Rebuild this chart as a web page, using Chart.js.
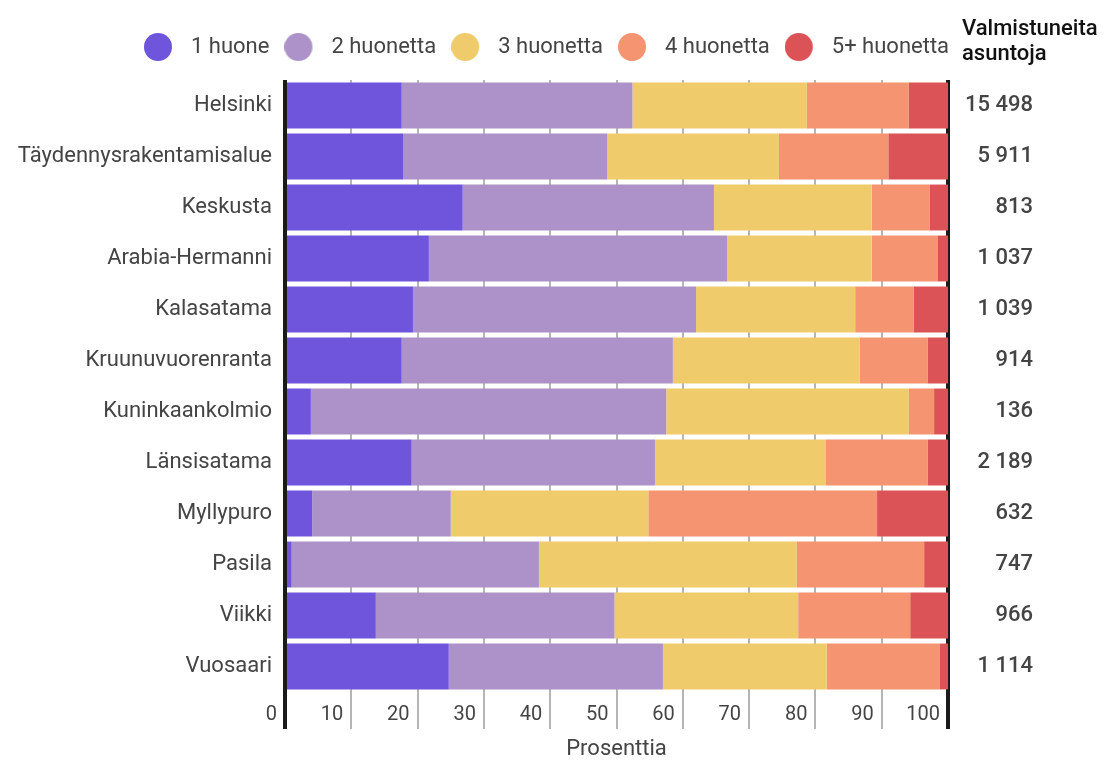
<!DOCTYPE html>
<html>
<head>
<meta charset="utf-8">
<script src="https://cdn.jsdelivr.net/npm/chart.js@4"></script>
<style>
  body { margin: 0; background: #fff; }
  #wrap { width: 1113px; height: 760px; position: relative; }
</style>
</head>
<body>
<div id="wrap"><canvas id="chart"></canvas></div>
<script>
const areas = ['Helsinki', 'Täydennysrakentamisalue', 'Keskusta', 'Arabia-Hermanni', 'Kalasatama',
  'Kruunuvuorenranta', 'Kuninkaankolmio', 'Länsisatama', 'Myllypuro', 'Pasila', 'Viikki', 'Vuosaari'];
const completed = [15498, 5911, 813, 1037, 1039, 914, 136, 2189, 632, 747, 966, 1114];

const seriesNames = ['1 huone', '2 huonetta', '3 huonetta', '4 huonetta', '5+ huonetta'];
const rooms1 = [17.6, 17.8, 26.8, 21.7, 19.3, 17.6, 3.9, 19.1, 4.1, 1.0, 13.7, 24.7];
const rooms2 = [34.8, 30.8, 37.9, 45.0, 42.7, 40.9, 53.6, 36.7, 20.9, 37.3, 36.0, 32.3];
const rooms3 = [26.3, 25.9, 23.8, 21.8, 24.0, 28.2, 36.6, 25.8, 29.8, 38.9, 27.7, 24.7];
const rooms4 = [15.4, 16.5, 8.7, 9.9, 8.8, 10.2, 3.8, 15.3, 34.5, 19.2, 16.9, 17.0];
const rooms5 = [5.9, 9.0, 2.8, 1.6, 5.2, 3.1, 2.1, 3.1, 10.7, 3.6, 5.7, 1.3];

const colors = ['#6e55dc', '#ac92c8', '#efcb6b', '#f59470', '#db5356'];
const textGrey = '#444';

// legend dot with some room to the right of it
function dot(color) {
  const c = document.createElement('canvas');
  c.width = 36; c.height = 28;
  const g = c.getContext('2d');
  g.fillStyle = color;
  g.beginPath(); g.arc(14, 14, 14, 0, Math.PI * 2); g.fill();
  return c;
}
const dots = colors.map(dot);

const fmt = n => n.toString().replace(/\B(?=(\d{3})+(?!\d))/g, ' ');

// push the legend down a bit from the plot and start it further right
const legendTweak = {
  id: 'legendTweak',
  beforeInit(chart) {
    const fit = chart.legend.fit;
    chart.legend.fit = function() { fit.call(this); this.height += 12; };
  },
  afterLayout(chart) {
    chart.legend.left = 129;
  }
};

const header = {
  id: 'header',
  afterDraw(chart) {
    const ctx = chart.ctx;
    const x = chart.scales.y2.left + 14;
    ctx.save();
    ctx.font = '500 22px Roboto';
    ctx.fillStyle = '#111';
    ctx.textAlign = 'left';
    ctx.fillText('Valmistuneita', x, 29);
    ctx.fillText('asuntoja', x, 54);
    ctx.restore();
  }
};

const edge = v => v === 0 || v === 100;

new Chart(document.getElementById('chart'), {
  type: 'bar',
  data: {
    labels: areas,
    datasets: [rooms1, rooms2, rooms3, rooms4, rooms5].map((d, i) => ({
      label: seriesNames[i],
      data: d,
      backgroundColor: colors[i],
      borderWidth: 0,
      barPercentage: 0.9,
      categoryPercentage: 1
    }))
  },
  options: {
    indexAxis: 'y',
    responsive: true,
    maintainAspectRatio: false,
    animation: false,
    layout: { padding: { left: 0, right: 80, top: 21, bottom: 0 } },
    scales: {
      x: {
        stacked: true,
        min: 0, max: 100,
        border: { display: false },
        grid: {
          color: c => edge(c.tick.value) ? '#1a1a1a' : '#b5b5b5',
          lineWidth: c => edge(c.tick.value) ? 4 : 2,
          tickLength: 37
        },
        ticks: {
          stepSize: 10,
          align: 'end',
          labelOffset: -8,
          padding: -26,
          color: textGrey,
          font: { family: 'Roboto', size: 20 },
          maxRotation: 0
        },
        title: {
          display: true,
          text: 'Prosenttia',
          color: textGrey,
          font: { family: 'Roboto', size: 22 },
          padding: { top: 6, bottom: -3 }
        },
        afterFit(s) { s.height = 68; }
      },
      y: {
        stacked: true,
        border: { display: false },
        grid: { display: false, drawTicks: false },
        ticks: { color: textGrey, padding: 13, font: { family: 'Roboto', size: 22 } },
        afterFit(s) { s.width = 285; }
      },
      y2: {
        type: 'category',
        position: 'right',
        labels: completed.map(fmt),
        offset: true,
        border: { display: false },
        grid: { display: false },
        ticks: { color: textGrey, padding: 15, crossAlign: 'far', font: { family: 'Roboto', size: 22, weight: '500' } },
        afterFit(s) { s.width = 85; }
      }
    },
    plugins: {
      tooltip: { enabled: false },
      legend: {
        position: 'top',
        align: 'start',
        labels: {
          usePointStyle: true,
          pointStyleWidth: 36,
          padding: 15,
          color: textGrey,
          font: { family: 'Roboto', size: 22 },
          generateLabels(chart) {
            const items = Chart.defaults.plugins.legend.labels.generateLabels(chart);
            items.forEach((it, i) => { it.pointStyle = dots[i]; });
            return items;
          }
        }
      }
    }
  },
  plugins: [legendTweak, header]
});
</script>
</body>
</html>
